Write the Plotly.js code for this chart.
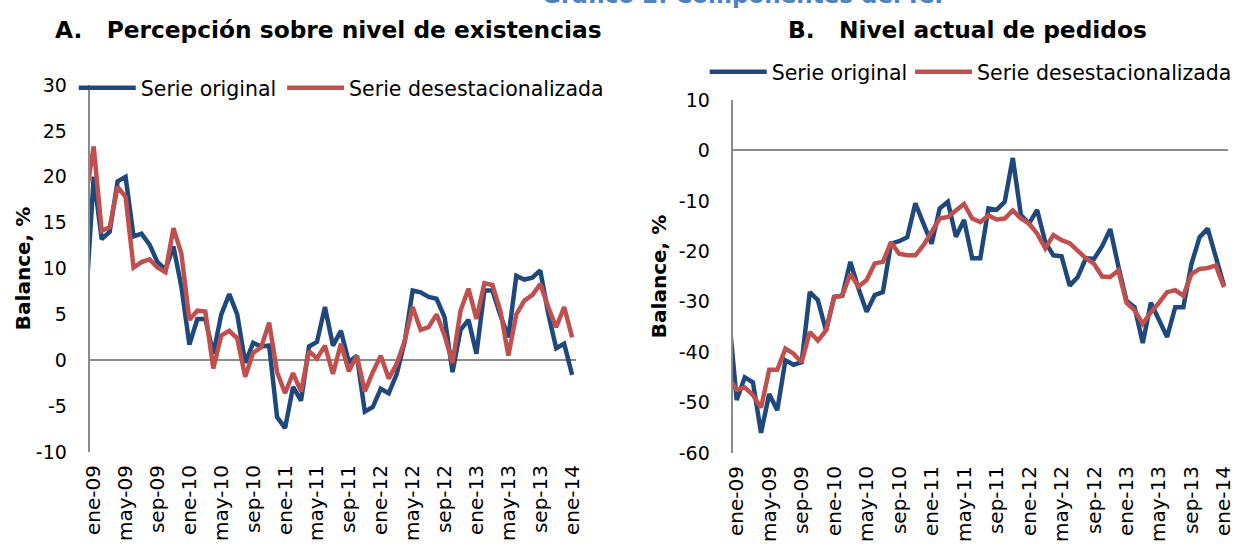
<!DOCTYPE html>
<html>
<head>
<meta charset="utf-8">
<script src="https://cdn.plot.ly/plotly-3.0.1.min.js"></script>
<style>
  html, body { margin: 0; padding: 0; background: #ffffff; }
  #chart { width: 1237px; height: 546px; }
</style>
</head>
<body>
<div id="chart"></div>
<script>
// Months (first entry dic-08 lies just left of the axis and is clipped, as in the original)
const months = [
  "dic-08",
  "ene-09","feb-09","mar-09","abr-09","may-09","jun-09","jul-09","ago-09","sep-09","oct-09","nov-09","dic-09",
  "ene-10","feb-10","mar-10","abr-10","may-10","jun-10","jul-10","ago-10","sep-10","oct-10","nov-10","dic-10",
  "ene-11","feb-11","mar-11","abr-11","may-11","jun-11","jul-11","ago-11","sep-11","oct-11","nov-11","dic-11",
  "ene-12","feb-12","mar-12","abr-12","may-12","jun-12","jul-12","ago-12","sep-12","oct-12","nov-12","dic-12",
  "ene-13","feb-13","mar-13","abr-13","may-13","jun-13","jul-13","ago-13","sep-13","oct-13","nov-13","dic-13",
  "ene-14"
];
const tickLabels = ["ene-09","may-09","sep-09","ene-10","may-10","sep-10","ene-11","may-11","sep-11",
  "ene-12","may-12","sep-12","ene-13","may-13","sep-13","ene-14"];

// Y tick labels (hyphen minus, as in the original)
const yTicksA = [-10, -5, 0, 5, 10, 15, 20, 25, 30];
const yTickTextA = ["-10", "-5", "0", "5", "10", "15", "20", "25", "30"];
const yTicksB = [-60, -50, -40, -30, -20, -10, 0, 10];
const yTickTextB = ["-60", "-50", "-40", "-30", "-20", "-10", "0", "10"];

// Panel A: Percepción sobre nivel de existencias (balance, %)
const existOriginal = [
  6,
  20, 13.2, 14, 19.5, 20, 13.5, 13.8, 12.6, 10.7, 9.9, 12.4, 8,
  1.7, 4.5, 4.5, 0.7, 5, 7.2, 5, -0.3, 1.9, 1.5, 1.6, -6.2,
  -7.4, -2.9, -4.4, 1.5, 2.0, 5.8, 1.6, 3.2, -0.2, 0.5, -5.6, -5.1,
  -3.1, -3.6, -1.5, 2.0, 7.6, 7.4, 6.9, 6.7, 4.7, -1.3, 3.3, 4.4,
  0.7, 7.6, 7.6, 4.9, 2.5, 9.2, 8.8, 9.0, 9.8, 5.1, 1.3, 1.8,
  -1.6
];
const existDesest = [
  17.7,
  23.3, 14.1, 14.5, 18.9, 17.8, 10.1, 10.7, 11.0, 10.1, 9.6, 14.4, 11.6,
  4.4, 5.4, 5.3, -0.9, 2.7, 3.2, 2.4, -1.8, 0.8, 1.4, 4.1, -1.3,
  -3.6, -1.4, -3.4, 1.0, 0.2, 1.6, -1.5, 1.8, -1.2, 0.5, -3.4, -1.3,
  0.5, -2.0, -0.4, 2.1, 5.8, 3.3, 3.6, 5.0, 2.7, -0.3, 5.4, 7.8,
  4.5, 8.4, 8.2, 5.4, 0.5, 5.0, 6.5, 7.1, 8.3, 5.8, 3.6, 5.8,
  2.5
];

// Panel B: Nivel actual de pedidos (balance, %)
const pedidosOriginal = [
  -32,
  -49.5, -45, -46, -56, -48.3, -51.5, -41.6, -42.5, -42, -28.1, -29.7, -35.7,
  -29, -28.8, -22.1, -27.4, -32, -28.7, -28.1, -18.5, -18, -17.2, -10.5, -14.5,
  -18.5, -11.5, -10.2, -17.1, -13.8, -21.4, -21.4, -11.5, -11.8, -10.2, -1.5, -12.8,
  -14.5, -11.8, -18.2, -20.8, -21, -26.8, -25.1, -21.4, -21.5, -19, -15.6, -23,
  -29.8, -31.1, -38.2, -30.2, -33.8, -37, -31.1, -31.1, -22.5, -17.2, -15.5, -21.2,
  -26.8
];
const pedidosDesest = [
  -45,
  -47.5, -47, -48.5, -51, -43.5, -43.5, -39.3, -40.3, -42, -36, -37.7, -35.7,
  -29.1, -28.8, -24.5, -27, -25.7, -22.4, -22.1, -18.2, -20.5, -20.8, -20.8, -18.8,
  -16.2, -13.5, -13.2, -11.9, -10.6, -13.5, -14.2, -12.9, -13.7, -13.5, -11.9, -13.5,
  -14.5, -16.5, -19.4, -16.8, -17.8, -18.4, -20, -21.4, -22.5, -25, -25.1, -23.8,
  -30.2, -31.7, -34.4, -32.1, -30.2, -28.1, -27.7, -28.8, -24.5, -23.5, -23.3, -22.8,
  -27.1
];

const BLUE = "#1F497D";
const RED = "#C0504D";
const GREY = "#8C8C8C";
const FONT = "DejaVu Sans";
const W = 1237, H = 546;

function px(v) { return v / W; }
function py(v) { return 1 - v / H; }

const traces = [
  { x: months, y: existOriginal, xaxis: "x", yaxis: "y", type: "scatter", mode: "lines",
    name: "Serie original", line: { color: BLUE, width: 4.5 }, legend: "legend" },
  { x: months, y: existDesest, xaxis: "x", yaxis: "y", type: "scatter", mode: "lines",
    name: "Serie desestacionalizada", line: { color: RED, width: 4.5 }, legend: "legend2" },
  { x: months, y: pedidosOriginal, xaxis: "x2", yaxis: "y2", type: "scatter", mode: "lines",
    name: "Serie original", line: { color: BLUE, width: 4.5 }, legend: "legend3" },
  { x: months, y: pedidosDesest, xaxis: "x2", yaxis: "y2", type: "scatter", mode: "lines",
    name: "Serie desestacionalizada", line: { color: RED, width: 4.5 }, legend: "legend4" }
];

function xAxis(domain) {
  return {
    domain: domain, type: "category", range: [0.5, months.length - 0.5],
    tickmode: "array", tickvals: tickLabels, ticktext: tickLabels,
    tickangle: -90, tickfont: { family: FONT, size: 20, color: "#000" },
    showline: false, showgrid: false, zeroline: false, ticks: "",
    ticklabelstandoff: 8, fixedrange: true
  };
}
function yAxis(domain, range, vals, texts, anchor, standoff) {
  return {
    domain: domain, range: range, anchor: anchor,
    tickmode: "array", tickvals: vals, ticktext: texts,
    tickfont: { family: FONT, size: 19, color: "#000" },
    showline: true, linecolor: GREY, linewidth: 2,
    zeroline: true, zerolinecolor: GREY, zerolinewidth: 2,
    showgrid: false, ticks: "", ticklabelstandoff: 17,
    title: { text: "<b>Balance, %</b>", font: { family: FONT, size: 20, color: "#000" }, standoff: standoff },
    fixedrange: true
  };
}
function legendAt(x, y) {
  return {
    x: x, y: y, xanchor: "left", yanchor: "middle", orientation: "h",
    bgcolor: "rgba(0,0,0,0)", borderwidth: 0, itemwidth: 57,
    font: { family: FONT, size: 20.5, color: "#000" }
  };
}

const layout = {
  width: W, height: H,
  margin: { l: 0, r: 0, t: 0, b: 0 },
  paper_bgcolor: "#ffffff", plot_bgcolor: "#ffffff",
  font: { family: FONT, color: "#000" },
  showlegend: true,
  xaxis: Object.assign(xAxis([px(90), px(578)]), { anchor: "y" }),
  yaxis: yAxis([py(452), py(85)], [-10, 30], yTicksA, yTickTextA, "x", 0),
  xaxis2: Object.assign(xAxis([px(735), px(1232)]), { anchor: "y2" }),
  yaxis2: yAxis([py(453), py(100)], [-60, 10], yTicksB, yTickTextB, "x2", 7),
  legend: legendAt(px(74), py(88)),
  legend2: legendAt(px(283), py(88)),
  legend3: legendAt(px(707), py(72)),
  legend4: legendAt(px(913), py(72)),
  annotations: [
    { text: "<b>Gráfico 2: Componentes del ICI</b>", xref: "paper", yref: "paper",
      x: px(745), y: py(10), xanchor: "center", yanchor: "bottom", showarrow: false,
      font: { family: FONT, size: 23, color: "#4F81BD" } },
    { text: "<b>A.\u00a0\u00a0\u00a0Percepción sobre nivel de existencias</b>", xref: "paper", yref: "paper",
      x: px(53), y: py(29), xanchor: "left", yanchor: "middle", showarrow: false,
      font: { family: FONT, size: 23.3, color: "#000" } },
    { text: "<b>B.\u00a0\u00a0\u00a0Nivel actual de pedidos</b>", xref: "paper", yref: "paper",
      x: px(789), y: py(29), xanchor: "left", yanchor: "middle", showarrow: false,
      font: { family: FONT, size: 23.3, color: "#000" } }
  ]
};

Plotly.newPlot("chart", traces, layout, { staticPlot: true, displayModeBar: false });
</script>
</body>
</html>
